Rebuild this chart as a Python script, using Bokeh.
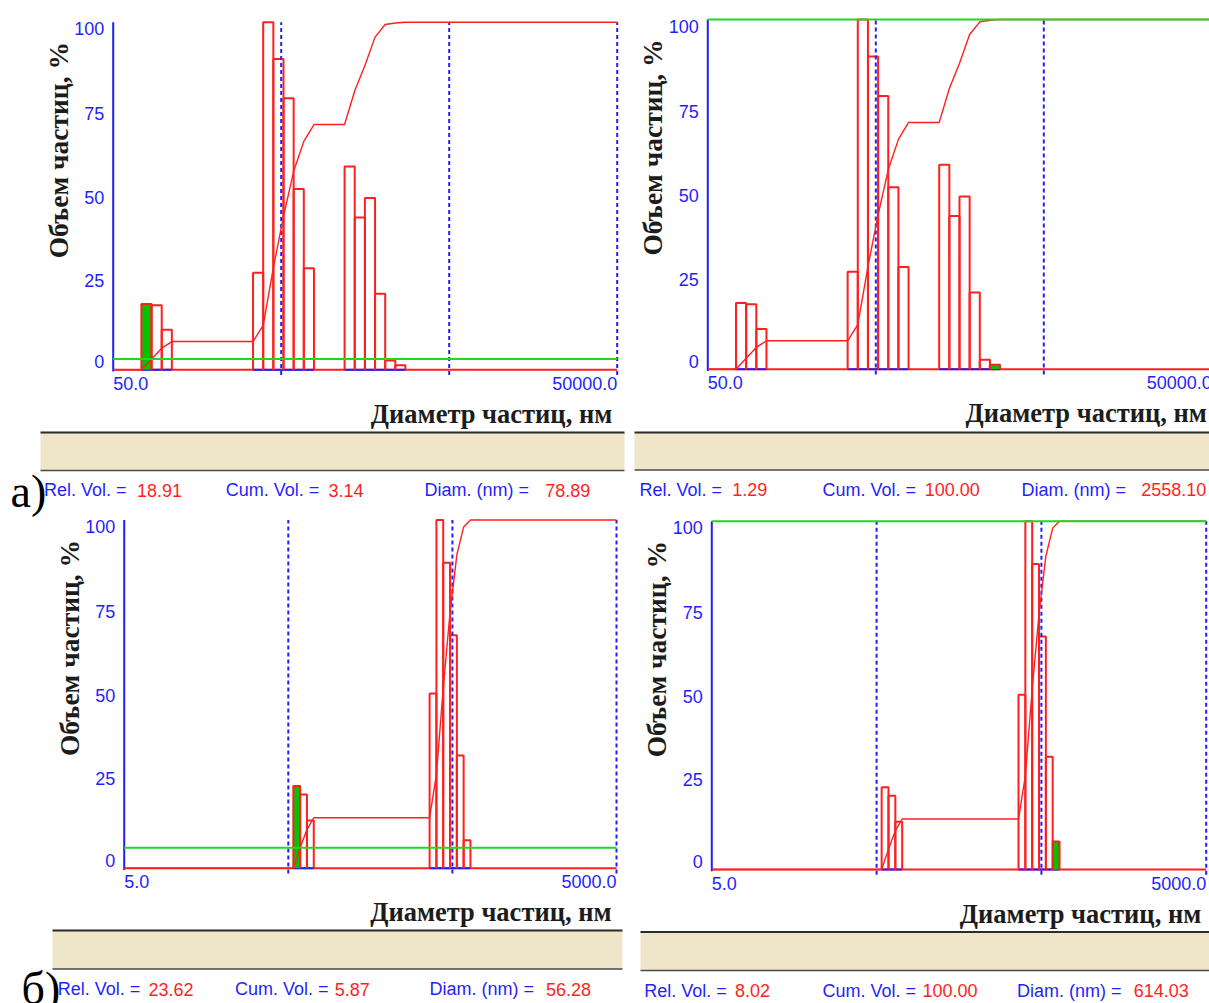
import numpy as np
from bokeh.plotting import figure
from bokeh.models import Range1d, LogScale, ColumnDataSource
from bokeh.core.properties import value
from bokeh.embed import file_html
from bokeh.resources import INLINE

# ---------------------------------------------------------------- data
# sample а: centres of the non-empty size channels (nm) and relative volume (%)
diam_a = [78.89, 90.7, 104.2, 364.4, 418.8, 481.3, 553.2, 635.8, 730.7,
          1278.0, 1469.0, 1688.0, 1940.0, 2230.0, 2558.10]
vol_a = [18.91, 18.6, 11.5, 27.9, 100.0, 89.4, 78.1, 52.0, 29.2,
         58.5, 43.8, 49.4, 21.9, 2.7, 1.29]
ratio_a = 1.1493          # upper / lower edge of one channel

# sample б
diam_b = [56.28, 61.93, 68.14, 380.9, 419.1, 461.1, 507.4, 558.1, 614.03]
vol_b = [23.62, 21.2, 13.7, 50.2, 100.0, 87.7, 66.9, 32.4, 8.02]
ratio_b = 1.1003

# size axis limits (nm) and decade guide lines for each sample
size_min = [50.0, 5.0]
size_max = [50000.0, 5000.0]
guides_a = [500.0, 5000.0, 50000.0]
guides_b = [50.0, 500.0, 5000.0]
y_ticks = [0, 25, 50, 75, 100]
y_tick_labels = ["0", "25", "50", "75", "100"]

# cursor read-outs of the four panels (а: left, right; б: left, right)
panel_sample = [0, 0, 1, 1]
cursor_rel = [18.91, 1.29, 23.62, 8.02]
cursor_cum = [3.14, 100.00, 5.87, 100.00]
cursor_diam = [78.89, 2558.10, 56.28, 614.03]

samples = [(diam_a, vol_a, ratio_a, guides_a), (diam_b, vol_b, ratio_b, guides_b)]

# ---------------------------------------------------------------- layout
W, H = 1209, 1003
# plotting area of each panel in page pixels: left, right, zero line, 100 % line
frames = [(112.7, 616.7, 369.3, 21.7),
          (707.3, 1211.3, 368.7, 19.0),
          (123.7, 616.0, 867.7, 519.5),
          (711.3, 1205.7, 869.0, 520.7)]
# status bars: left, right, top, bottom
bands = [(40, 624, 432, 470), (634, 1209, 432, 469.5),
         (52, 622, 930, 968.5), (640, 1209, 931.5, 970)]
readout_y = [489.5, 489.0, 988.5, 990.0]
readout_label_x = [(43.5, 225.3, 424.0), (639.0, 822.0, 1021.0),
                   (57.3, 234.4, 428.9), (643.7, 821.9, 1016.6)]
readout_value_x = [(136.5, 328.0, 544.7), (731.8, 924.3, 1140.7),
                   (148.0, 334.2, 545.5), (734.4, 922.0, 1133.2)]
tick_label_shift = [-8.0, -2.5, 1.0, 4.5, 6.5]

RED = "#ff1f1f"
BLUE = "#1f1fff"
GREEN_LINE = "#22d622"
GREEN_FILL = "#00c400"
SANS = value("Liberation Sans")
SERIF = value("Liberation Serif")

p = figure(width=W, height=H, x_range=Range1d(0, W), y_range=Range1d(H, 0),
           x_axis_type=None, y_axis_type=None, toolbar_location=None,
           output_backend="svg", min_border=0, outline_line_color=None,
           background_fill_color="white", border_fill_color="white")

# one log size scale and one linear volume scale per panel
xr, xs_, yr = {}, {}, {}
for k, (x0, x1, y0, y100) in enumerate(frames):
    s = panel_sample[k]
    lo, hi = size_min[s], size_max[s]
    ppd = (x1 - x0) / np.log10(hi / lo)
    xr[f"x{k}"] = Range1d(lo * 10 ** (-x0 / ppd), lo * 10 ** ((W - x0) / ppd))
    xs_[f"x{k}"] = LogScale()
    ppu = (y0 - y100) / 100.0
    yr[f"y{k}"] = Range1d((y0 - H) / ppu, y0 / ppu)
p.extra_x_ranges = xr
p.extra_x_scales = xs_
p.extra_y_ranges = yr

for k in range(4):
    s = panel_sample[k]
    diam, vol, ratio, guides = samples[s]
    lo, hi = size_min[s], size_max[s]
    names = dict(x_range_name=f"x{k}", y_range_name=f"y{k}")

    d = np.asarray(diam, float)
    v = np.asarray(vol, float)
    half = np.sqrt(ratio)
    e_lo, e_hi = d / half, d * half

    # zero line of the histogram, axis colour under occupied channels
    p.line([lo, hi], [0, 0], line_color=RED, line_width=2, **names)
    p.segment(x0=e_lo, y0=np.zeros_like(e_lo), x1=e_hi, y1=np.zeros_like(e_hi),
              line_color=BLUE, line_width=2, **names)

    # channel under the cursor
    sel = int(np.argmin(np.abs(np.log(d) - np.log(cursor_diam[k]))))
    p.quad(left=[e_lo[sel]], right=[e_hi[sel]], bottom=[0], top=[cursor_rel[k]],
           fill_color=GREEN_FILL, line_color=None, **names)

    # histogram bars as open outlines
    bx = [[a, a, b, b] for a, b in zip(e_lo, e_hi)]
    by = [[0, h, h, 0] for h in v]
    p.multi_line(bx, by, line_color=RED, line_width=2, **names)

    # volume axis line
    p.line([lo, lo], [-0.5, 100], line_color=BLUE, line_width=2, **names)

    # decade guides
    g = np.asarray(guides, float)
    p.segment(x0=g, y0=np.full_like(g, -1.5), x1=g, y1=np.full_like(g, 100),
              line_color=BLUE, line_width=2, line_dash="4 3", **names)

    # cumulative volume curve
    cum = np.cumsum(v) / v.sum() * 100.0
    cx, cy = [lo, e_lo[0]], [0.0, 0.0]
    for i in range(len(v)):
        if i > 0 and e_lo[i] > e_hi[i - 1] * 1.02:
            cx.append(e_lo[i]); cy.append(cum[i - 1])
        cx.append(e_hi[i]); cy.append(cum[i])
    cx.append(hi); cy.append(100.0)
    p.line(cx, cy, line_color=RED, line_width=1.4, **names)

    # cursor cumulative level
    p.line([lo, hi], [cursor_cum[k], cursor_cum[k]], line_color=GREEN_LINE,
           line_width=2, **names)

    # volume tick labels
    src = ColumnDataSource(dict(x=[lo] * len(y_ticks), y=y_ticks, t=y_tick_labels,
                                dy=tick_label_shift))
    p.text(x="x", y="y", text="t", y_offset="dy", x_offset=-9, source=src,
           text_align="right", text_baseline="middle", text_font=SANS,
           text_font_size="18px", text_color=BLUE, **names)

    # size limits
    p.text(x=[lo, hi], y=[0, 0], text=[f"{lo:.1f}", f"{hi:.1f}"],
           y_offset=13.5, text_align=["left", "right"], text_baseline="middle",
           text_font=SANS, text_font_size="18px", text_color=BLUE, **names)

    # size axis title
    p.text(x=[hi], y=[0], text=["Диаметр частиц, нм"], x_offset=-5, y_offset=44,
           text_align="right", text_baseline="middle", text_font=SERIF,
           text_font_style="bold", text_font_size="26.5px", text_color="#1c1c1c",
           **names)

    # volume axis title
    x0, x1, y0, y100 = frames[k]
    p.text(x=[x0 - 55], y=[y100 + 128], text=["Объем частиц, %"], angle=np.pi / 2,
           text_align="center", text_baseline="middle", text_font=SERIF,
           text_font_style="bold", text_font_size="27.5px", text_color="#1c1c1c")

    # status bar
    bl, br, bt, bb = bands[k]
    p.quad(left=[bl], right=[br], top=[bt], bottom=[bb], fill_color="#efe6c9",
           line_color=None)
    p.line([bl, br], [bt, bt], line_color="#2b2b2b", line_width=2.2)
    p.line([bl, br], [bb, bb], line_color="#4a4a4a", line_width=1.6)

    # cursor read-out
    ry = readout_y[k]
    p.text(x=list(readout_label_x[k]), y=[ry] * 3,
           text=["Rel. Vol. =", "Cum. Vol. =", "Diam. (nm)  ="],
           text_align="left", text_baseline="middle", text_font=SANS,
           text_font_size="18px", text_color=BLUE)
    p.text(x=list(readout_value_x[k]), y=[ry] * 3,
           text=[f"{cursor_rel[k]:.2f}", f"{cursor_cum[k]:.2f}", f"{cursor_diam[k]:.2f}"],
           text_align="left", text_baseline="middle", text_font=SANS,
           text_font_size="18px", text_color=RED)

# sample letters
p.text(x=[10, 21], y=[491, 988], text=["а)", "б)"], text_align="left",
       text_baseline="middle", text_font=SERIF, text_font_size="46px",
       text_color="black")

open("out.html", "w").write(file_html(p, INLINE))
